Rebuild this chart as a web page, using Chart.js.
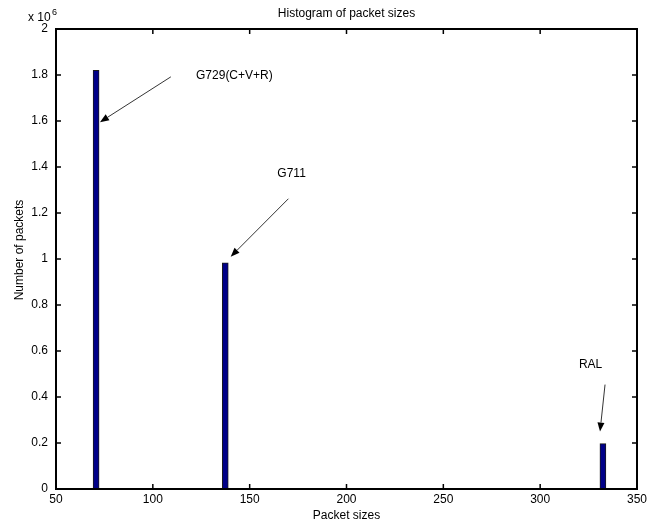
<!DOCTYPE html>
<html>
<head>
<meta charset="utf-8">
<script src="https://cdn.jsdelivr.net/npm/chart.js@4.4.1/dist/chart.umd.min.js"></script>
<style>
  html, body { margin: 0; padding: 0; background: #fff; }
  #wrap { width: 651px; height: 526px; }
</style>
</head>
<body>
<div id="wrap"><canvas id="chart" width="651" height="526"></canvas></div>
<script>
// data
const packetSizes = [70.7, 137.4, 332.4];
const packetCounts = [1820000, 983000, 197000];
const xTicks = [50, 100, 150, 200, 250, 300, 350];
const yTicks = [0, 200000, 400000, 600000, 800000, 1000000, 1200000, 1400000, 1600000, 1800000, 2000000];

// annotations (data coordinates)
const noteText = ['G729(C+V+R)', 'G711', 'RAL'];
const noteAt = [[122.3, 1795000], [164.3, 1372000], [320.0, 541000]];
const arrowFrom = [[109.3, 1792000], [170.0, 1262000], [333.5, 454000]];
const arrowTo = [[72.7, 1595000], [140.2, 1010000], [330.9, 250000]];

const FONT = "12px 'Liberation Sans', Arial, sans-serif";

const matlabAxes = {
    id: 'matlabAxes',
    afterDraw(chart) {
        const { ctx, chartArea: a, scales: { x, y } } = chart;
        ctx.save();
        // box
        ctx.strokeStyle = '#000';
        ctx.lineWidth = 2;
        ctx.strokeRect(a.left, a.top, a.right - a.left, a.bottom - a.top);
        // inward ticks on all sides
        ctx.lineWidth = 1.5;
        ctx.beginPath();
        xTicks.forEach(v => {
            const px = x.getPixelForValue(v);
            ctx.moveTo(px, a.bottom); ctx.lineTo(px, a.bottom - 5);
            ctx.moveTo(px, a.top); ctx.lineTo(px, a.top + 5);
        });
        yTicks.forEach(v => {
            const py = y.getPixelForValue(v);
            ctx.moveTo(a.left, py); ctx.lineTo(a.left + 5, py);
            ctx.moveTo(a.right, py); ctx.lineTo(a.right - 5, py);
        });
        ctx.stroke();

        // texts
        ctx.fillStyle = '#000';
        ctx.font = FONT;
        ctx.textAlign = 'center';
        ctx.textBaseline = 'middle';
        ctx.fillText('Histogram of packet sizes', (a.left + a.right) / 2, 14);
        ctx.fillText('Packet sizes', (a.left + a.right) / 2, 516);
        ctx.save();
        ctx.translate(20, 250);
        ctx.rotate(-Math.PI / 2);
        ctx.fillText('Number of packets', 0, 0);
        ctx.restore();
        ctx.textAlign = 'left';
        ctx.fillText('x 10', 28, 18);
        ctx.font = "9px 'Liberation Sans', Arial, sans-serif";
        ctx.fillText('6', 52, 13);

        // annotations
        ctx.font = FONT;
        noteText.forEach((t, i) => {
            ctx.fillText(t, x.getPixelForValue(noteAt[i][0]), y.getPixelForValue(noteAt[i][1]));
            const x0 = x.getPixelForValue(arrowFrom[i][0]), y0 = y.getPixelForValue(arrowFrom[i][1]);
            const x1 = x.getPixelForValue(arrowTo[i][0]), y1 = y.getPixelForValue(arrowTo[i][1]);
            const ang = Math.atan2(y1 - y0, x1 - x0);
            const hl = 9, hw = 3.5;
            const bx = x1 - hl * Math.cos(ang), by = y1 - hl * Math.sin(ang);
            ctx.beginPath();
            ctx.moveTo(x0, y0); ctx.lineTo(bx, by);
            ctx.lineWidth = 0.8;
            ctx.stroke();
            ctx.beginPath();
            ctx.moveTo(x1, y1);
            ctx.lineTo(bx + hw * Math.sin(ang), by - hw * Math.cos(ang));
            ctx.lineTo(bx - hw * Math.sin(ang), by + hw * Math.cos(ang));
            ctx.closePath();
            ctx.fill();
        });
        ctx.restore();
    }
};

new Chart(document.getElementById('chart'), {
    type: 'bar',
    data: {
        datasets: [{
            data: packetSizes.map((s, i) => ({ x: s, y: packetCounts[i] })),
            backgroundColor: '#000088',
            borderColor: '#1a1a1a',
            borderWidth: 1,
            barThickness: 6,
        }],
    },
    options: {
        responsive: false,
        devicePixelRatio: 1,
        animation: false,
        layout: { padding: { left: 0, top: 29, right: 14, bottom: 0 } },
        plugins: { legend: { display: false }, title: { display: false }, tooltip: { enabled: false } },
        scales: {
            x: {
                type: 'linear', min: 50, max: 350, offset: false,
                afterBuildTicks: s => { s.ticks = xTicks.map(v => ({ value: v })); },
                afterFit: s => { s.height = 37; },
                grid: { display: false, offset: false },
                border: { display: false },
                ticks: { color: '#000', font: { family: "'Liberation Sans', Arial, sans-serif", size: 12 }, padding: -5, maxRotation: 0 },
            },
            y: {
                min: 0, max: 2000000,
                afterBuildTicks: s => { s.ticks = yTicks.map(v => ({ value: v })); },
                afterFit: s => { s.width = 56; },
                grid: { display: false },
                border: { display: false },
                ticks: {
                    color: '#000', font: { family: "'Liberation Sans', Arial, sans-serif", size: 12 }, padding: 0,
                    callback: v => String(+(v / 1e6).toFixed(1)),
                },
            },
        },
    },
    plugins: [matlabAxes],
});
</script>
</body>
</html>
